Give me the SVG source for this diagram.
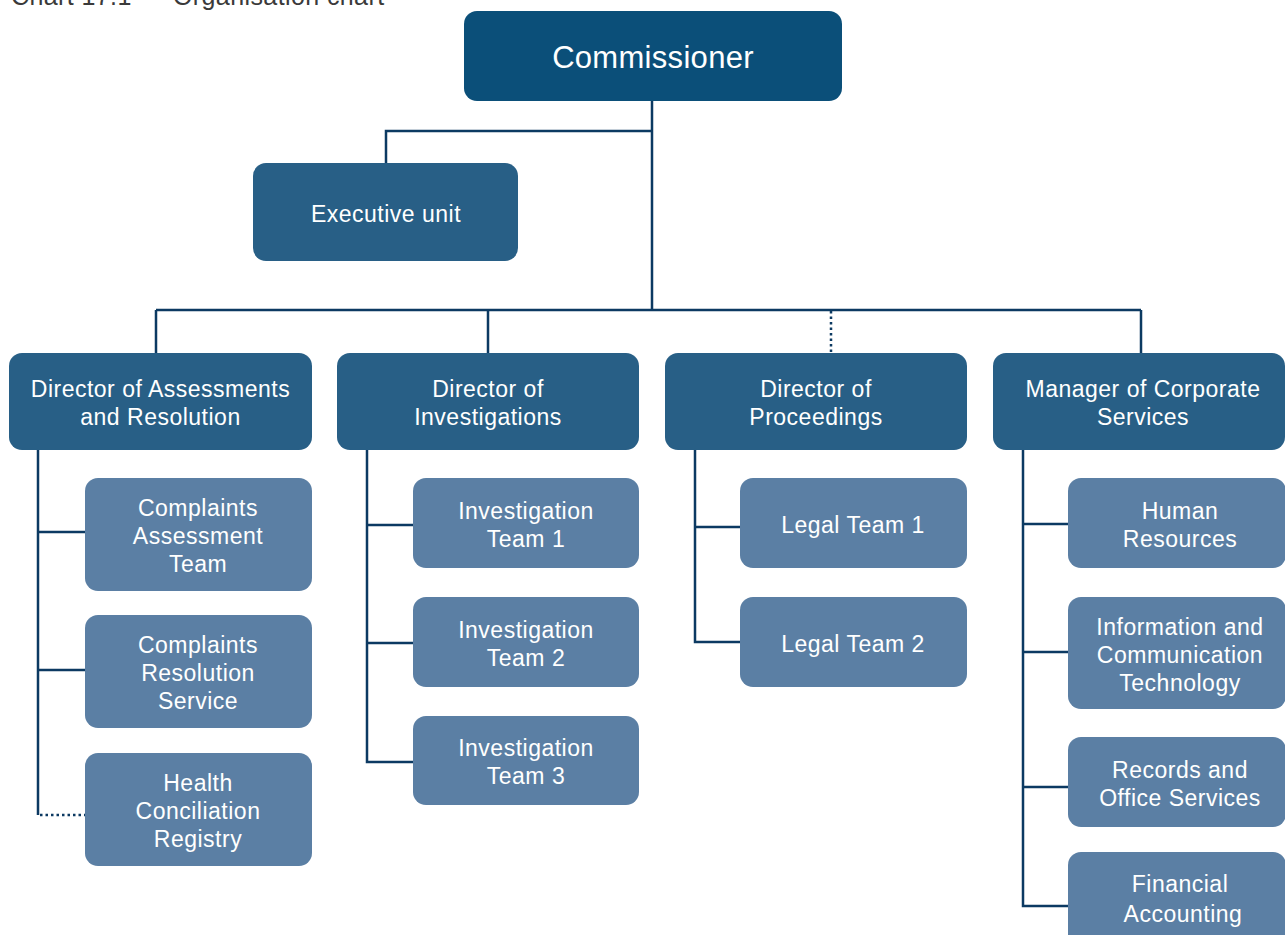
<svg xmlns="http://www.w3.org/2000/svg" width="1285" height="935" viewBox="0 0 1285 935">
<style>
text{font-family:"Liberation Sans",Arial,sans-serif;fill:#ffffff;text-anchor:middle;font-size:23px;letter-spacing:0.5px}
.title{fill:#3a3a3a;text-anchor:start;font-size:25px;letter-spacing:0.4px}
.top{fill:#0b4f79}
.dir{fill:#285f86}
.sub{fill:#5b7fa4}
.big{font-size:31px;letter-spacing:0.3px}
.ln{fill:none;stroke:#0c3a62;stroke-width:2.5}
.dot{fill:none;stroke:#0c3a62;stroke-width:2.5;stroke-dasharray:2.5 3}
</style>
<rect width="1285" height="935" fill="#ffffff"/>
<text class="title" x="11" y="5">Chart 17.1</text>
<text class="title" x="173" y="5">Organisation chart</text>
<g id="connectors">
<path class="ln" d="M652 101V310M652 131H386V163M156 310H1141M156 310V353M488 310V353M1141 310V353"/>
<path class="dot" d="M831 311V353"/>
<path class="ln" d="M38 450V815M38 532H85M38 670H85"/>
<path class="dot" d="M40 815H85"/>
<path class="ln" d="M367 450V762H413M367 525H413M367 643H413"/>
<path class="ln" d="M695 450V642H740M695 527H740"/>
<path class="ln" d="M1023 450V906H1068M1023 524H1068M1023 652H1068M1023 787H1068"/>
</g>
<g id="commissioner"><rect class="top" x="464" y="11" width="378" height="90" rx="13"/><text class="big" x="653" y="68">Commissioner</text></g>
<g id="executive"><rect class="dir" x="253" y="163" width="265" height="98" rx="13"/><text x="386" y="222">Executive unit</text></g>
<g id="dir-assess"><rect class="dir" x="9" y="353" width="303" height="97" rx="13"/><text x="160.5" y="397">Director of Assessments</text><text x="160.5" y="425">and Resolution</text></g>
<g id="dir-invest"><rect class="dir" x="337" y="353" width="302" height="97" rx="13"/><text x="488" y="397">Director of</text><text x="488" y="425">Investigations</text></g>
<g id="dir-proc"><rect class="dir" x="665" y="353" width="302" height="97" rx="13"/><text x="816" y="397">Director of</text><text x="816" y="425">Proceedings</text></g>
<g id="mgr-corp"><rect class="dir" x="993" y="353" width="292" height="97" rx="13"/><text x="1143" y="397">Manager of Corporate</text><text x="1143" y="425">Services</text></g>
<g id="complaints-assess"><rect class="sub" x="85" y="478" width="227" height="113" rx="13"/><text x="198" y="516">Complaints</text><text x="198" y="544">Assessment</text><text x="198" y="572">Team</text></g>
<g id="complaints-res"><rect class="sub" x="85" y="615" width="227" height="113" rx="13"/><text x="198" y="653">Complaints</text><text x="198" y="681">Resolution</text><text x="198" y="709">Service</text></g>
<g id="health"><rect class="sub" x="85" y="753" width="227" height="113" rx="13"/><text x="198" y="791">Health</text><text x="198" y="819">Conciliation</text><text x="198" y="847">Registry</text></g>
<g id="inv1"><rect class="sub" x="413" y="478" width="226" height="90" rx="13"/><text x="526" y="519">Investigation</text><text x="526" y="547">Team 1</text></g>
<g id="inv2"><rect class="sub" x="413" y="597" width="226" height="90" rx="13"/><text x="526" y="638">Investigation</text><text x="526" y="666">Team 2</text></g>
<g id="inv3"><rect class="sub" x="413" y="716" width="226" height="89" rx="13"/><text x="526" y="756">Investigation</text><text x="526" y="784">Team 3</text></g>
<g id="legal1"><rect class="sub" x="740" y="478" width="227" height="90" rx="13"/><text x="853" y="533">Legal Team 1</text></g>
<g id="legal2"><rect class="sub" x="740" y="597" width="227" height="90" rx="13"/><text x="853" y="652">Legal Team 2</text></g>
<g id="hr"><rect class="sub" x="1068" y="478" width="218" height="90" rx="13"/><text x="1180" y="519">Human</text><text x="1180" y="547">Resources</text></g>
<g id="ict"><rect class="sub" x="1068" y="597" width="218" height="112" rx="13"/><text x="1180" y="635">Information and</text><text x="1180" y="663">Communication</text><text x="1180" y="691">Technology</text></g>
<g id="records"><rect class="sub" x="1068" y="737" width="218" height="90" rx="13"/><text x="1180" y="778">Records and</text><text x="1180" y="806">Office Services</text></g>
<g id="finance"><rect class="sub" x="1068" y="852" width="218" height="100" rx="13"/><text x="1180" y="892">Financial</text><text x="1183" y="922">Accounting</text></g>
</svg>
